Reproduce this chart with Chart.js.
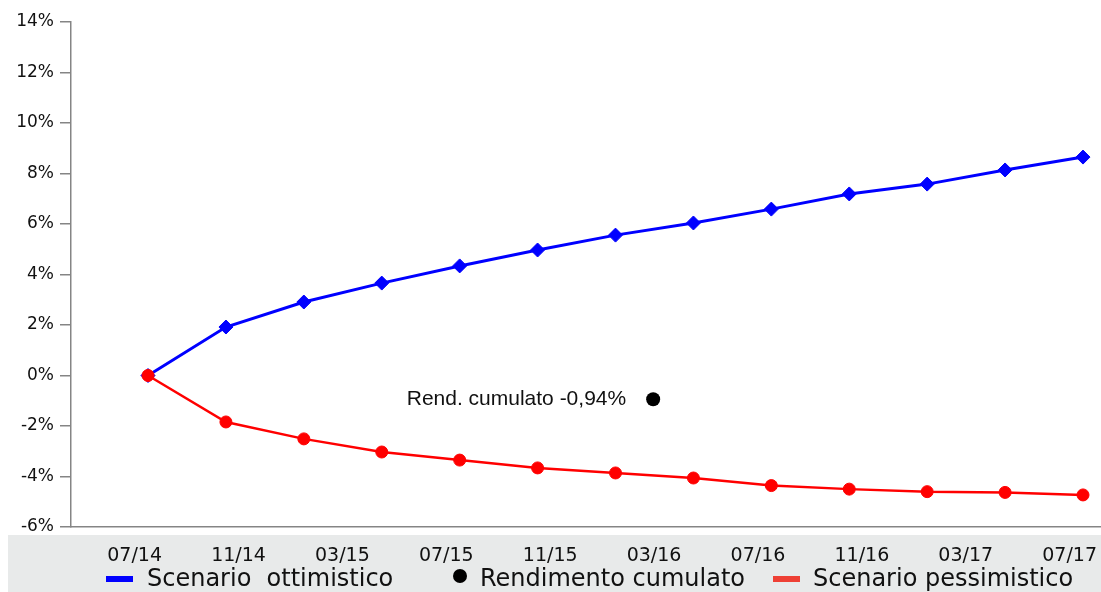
<!DOCTYPE html>
<html>
<head>
<meta charset="utf-8">
<title>Scenari di rendimento</title>
<script src="https://cdn.jsdelivr.net/npm/chart.js@4/dist/chart.umd.min.js"></script>
<style>
  html, body { margin: 0; padding: 0; background: #fff; }
  #wrap { width: 1101px; height: 592px; }
</style>
</head>
<body>
<div id="wrap"><canvas id="scenariChart" width="1101" height="592"></canvas></div>
<script>
// Date dei punti (mm/aa), un punto ogni 3 mesi
const pointDates = ['07/14', '10/14', '01/15', '04/15', '07/15', '10/15', '01/16', '04/16', '07/16', '10/16', '01/17', '04/17', '07/17'];
// Valori in %
const ottimistico = [0, 1.92, 2.91, 3.66, 4.34, 4.97, 5.56, 6.04, 6.59, 7.19, 7.58, 8.14, 8.65];
const pessimistico = [0, -1.84, -2.51, -3.03, -3.35, -3.66, -3.86, -4.06, -4.36, -4.50, -4.60, -4.63, -4.73];
// Etichette asse x (ogni 4 mesi)
const tickLabels = ['07/14', '11/14', '03/15', '07/15', '11/15', '03/16', '07/16', '11/16', '03/17', '07/17'];
// Rendimento cumulato
const rendCumulato = -0.94;
const rendMese = 19.45; // mesi da 07/14
const legendLabels = ['Scenario  ottimistico', 'Rendimento cumulato', 'Scenario pessimistico'];

// Mesi trascorsi da 07/14
function monthIndex(label) {
  const parts = label.split('/').map(Number);
  return (parts[1] - 14) * 12 + (parts[0] - 7);
}

const tickFont = 'DejaVu Sans, Verdana, sans-serif';

// Sfondo grigio sotto l'asse, annotazione e legenda
const decorPlugin = {
  id: 'decor',
  beforeDraw(chart) {
    const ctx = chart.ctx;
    ctx.save();
    ctx.fillStyle = '#e8eaea';
    ctx.fillRect(8, 535, chart.width - 8, chart.height - 535);
    ctx.restore();
  },
  afterDraw(chart) {
    const ctx = chart.ctx;
    const xs = chart.scales.x;
    const ys = chart.scales.y;
    ctx.save();

    // Testo vicino al punto del rendimento cumulato
    const px = xs.getPixelForValue(rendMese);
    const py = ys.getPixelForValue(rendCumulato);
    ctx.font = '21px "Liberation Sans", Arial, sans-serif';
    ctx.fillStyle = '#111';
    ctx.textAlign = 'right';
    ctx.textBaseline = 'middle';
    ctx.fillText('Rend. cumulato ' + rendCumulato.toFixed(2).replace('.', ',') + '%', px - 27, py);

    // Legenda
    ctx.font = '24px ' + tickFont;
    ctx.textAlign = 'left';
    ctx.fillStyle = '#0000ff';
    ctx.fillRect(106, 576, 27, 6);
    ctx.fillStyle = '#111';
    ctx.fillText(legendLabels[0], 147, 580);

    ctx.fillStyle = '#000';
    ctx.beginPath();
    ctx.arc(460, 576, 7, 0, Math.PI * 2);
    ctx.fill();
    ctx.fillStyle = '#111';
    ctx.fillText(legendLabels[1], 480, 580);

    ctx.fillStyle = '#ee4035';
    ctx.fillRect(773, 576, 27, 6);
    ctx.fillStyle = '#111';
    ctx.fillText(legendLabels[2], 813, 580);

    ctx.restore();
  }
};

const ctx = document.getElementById('scenariChart').getContext('2d');
const scenariChart = new Chart(ctx, {
  type: 'line',
  data: {
    datasets: [
      {
        label: legendLabels[0],
        data: pointDates.map((d, i) => ({ x: monthIndex(d), y: ottimistico[i] })),
        borderColor: '#0000ff',
        backgroundColor: '#0000ff',
        borderWidth: 3,
        pointStyle: 'rectRot',
        pointRadius: 7,
        pointBorderWidth: 1,
        tension: 0,
        order: 2
      },
      {
        label: legendLabels[2],
        data: pointDates.map((d, i) => ({ x: monthIndex(d), y: pessimistico[i] })),
        borderColor: '#ff0000',
        backgroundColor: '#ff0000',
        borderWidth: 2.5,
        pointStyle: 'circle',
        pointRadius: 6,
        pointBorderWidth: 1,
        tension: 0,
        order: 1
      },
      {
        label: legendLabels[1],
        data: [{ x: rendMese, y: rendCumulato }],
        showLine: false,
        borderColor: '#000',
        backgroundColor: '#000',
        pointRadius: 7,
        pointBorderWidth: 0,
        order: 0
      }
    ]
  },
  options: {
    responsive: false,
    animation: false,
    layout: { autoPadding: false, padding: { top: 22, right: 0, bottom: 0, left: 0 } },
    plugins: {
      legend: { display: false },
      tooltip: { enabled: false }
    },
    scales: {
      x: {
        type: 'linear',
        min: -2.965,
        max: 36.693,
        grid: { display: false, drawTicks: false },
        border: { display: true, color: '#858585', width: 1.5 },
        afterBuildTicks(scale) {
          scale.ticks = tickLabels.map(l => ({ value: monthIndex(l) }));
        },
        afterFit(scale) {
          scale.height = 65;
          scale.paddingLeft = 0;
          scale.paddingRight = 0;
        },
        ticks: {
          autoSkip: false,
          maxRotation: 0,
          align: 'end',
          padding: 18,
          labelOffset: 14,
          color: '#111',
          font: { family: tickFont, size: 19 },
          callback: (value, index) => tickLabels[index]
        }
      },
      y: {
        min: -6,
        max: 14,
        grid: { display: true, drawOnChartArea: false, drawTicks: true, tickLength: 11, color: '#858585', lineWidth: 1.5 },
        border: { display: true, color: '#858585', width: 1.5 },
        afterFit(scale) {
          scale.width = 71;
        },
        ticks: {
          stepSize: 2,
          padding: 6,
          color: '#111',
          font: { family: tickFont, size: 17 },
          callback: v => v + '%'
        }
      }
    }
  },
  plugins: [decorPlugin]
});
</script>
</body>
</html>
